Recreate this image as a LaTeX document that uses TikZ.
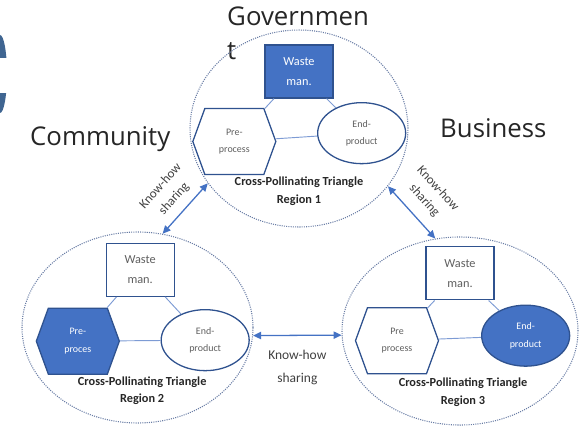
\documentclass[tikz,border=0pt]{standalone}
\usepackage{fontspec}
\setmainfont{Carlito}
\newfontfamily\actorfont{Open Sans}
\usetikzlibrary{positioning,shapes.geometric,shapes.symbols,arrows.meta}

\definecolor{shapeblue}{RGB}{68,114,196}
\definecolor{edgeblue}{RGB}{47,82,143}
\definecolor{linkblue}{RGB}{125,155,212}
\definecolor{ringgray}{RGB}{105,125,165}
\definecolor{textgray}{RGB}{95,95,95}
\definecolor{markblue}{RGB}{63,101,145}

\tikzset{
    region/.style={ellipse, draw=ringgray, densely dotted, line width=0.9pt, inner sep=0pt},
    wastebox/.style={rectangle, draw=edgeblue, line width=1.1pt, minimum width=2.04cm, minimum height=1.59cm, inner sep=1pt, align=center, font=\fontsize{10.5}{17}\selectfont, text=textgray},
    prebox/.style={signal, signal to=west and east, signal pointer angle=140, draw=edgeblue, line width=1.1pt, minimum width=2.49cm, minimum height=1.98cm, inner sep=1pt, align=center, font=\fontsize{8.5}{15}\selectfont, text=textgray},
    endbox/.style={ellipse, draw=edgeblue, line width=1.1pt, minimum width=2.64cm, minimum height=1.83cm, inner sep=0pt, align=center, font=\fontsize{8.5}{15}\selectfont, text=textgray},
    filled/.style={fill=shapeblue, text=white},
    regiontitle/.style={align=center, font=\bfseries\fontsize{10.5}{15}\selectfont, text=black!85},
    link/.style={draw=linkblue, line width=0.8pt},
    share/.style={draw=shapeblue, line width=1.1pt, {Triangle[length=2.4mm,width=2.2mm]}-{Triangle[length=2.4mm,width=2.2mm]}},
    sharelabel/.style={align=center, font=\fontsize{11.5}{19.5}\selectfont, text=black!75},
    slopedlabel/.style={sharelabel, font=\fontsize{11}{15.5}\selectfont, sloped},
    actor/.style={font=\actorfont\fontsize{22}{29}\selectfont, text=black!85, inner sep=0pt},
}

\begin{document}
\begin{tikzpicture}[x=0.03cm, y=-0.03cm, on grid]
    \useasboundingbox (0,0) rectangle (581,430);
    \fill[markblue] (0,74) ellipse [x radius=0.21cm, y radius=1.17cm];
    \fill[white] (0,58) rectangle (10,93);

    \node[actor, align=left, anchor=north west] (gov) at (227,7) {Governmen\\t};
    \node[actor, anchor=base west] (comm) at (30,146) {Community};
    \node[actor, anchor=base west] (bus) at (440,138) {Business};

    \node[region, minimum width=6.54cm, minimum height=5.91cm] (r1) at (299,128.5) {};
    \node[wastebox, filled, above=1.71cm of r1] (w1) {Waste\\man.};
    \node[prebox, below left=0.39cm and 1.94cm of r1] (p1) {Pre-\\process};
    \node[endbox, below right=0.14cm and 1.88cm of r1] (e1) {End-\\product};
    \node[regiontitle, below=1.89cm of r1] (t1) {Cross-Pollinating Triangle\\Region 1};

    \node[region, minimum width=6.93cm, minimum height=5.73cm] (r2) at (137.5,327.5) {};
    \node[wastebox, above right=1.73cm and 0.08cm of r2] (w2) {Waste\\man.};
    \node[prebox, filled, below left=0.41cm and 1.79cm of r2] (p2) {Pre-\\proces};
    \node[endbox, below right=0.38cm and 2.03cm of r2] (e2) {End-\\product};
    \node[regiontitle, below right=1.9cm and 0.14cm of r2] (t2) {Cross-Pollinating Triangle\\Region 2};

    \node[region, minimum width=7.08cm, minimum height=5.64cm] (r3) at (460,331) {};
    \node[wastebox, above=1.73cm of r3] (w3) {Waste\\man.};
    \node[prebox, below left=0.29cm and 1.89cm of r3] (p3) {Pre\\process};
    \node[endbox, filled, below right=0.14cm and 1.97cm of r3] (e3) {End-\\product};
    \node[regiontitle, below right=1.83cm and 0.09cm of r3] (t3) {Cross-Pollinating Triangle\\Region 3};

    \draw[link] (w1) -- (p1);
    \draw[link] (w1) -- (e1);
    \draw[link] (p1) -- (e1);
    \draw[link] (w2) -- (p2);
    \draw[link] (w2) -- (e2);
    \draw[link] (p2) -- (e2);
    \draw[link] (w3) -- (p3);
    \draw[link] (w3) -- (e3);
    \draw[link] (p3) -- (e3);

    \draw[share] (r1.211) -- node[slopedlabel, above=4pt] {Know-how\\sharing} (r2.75);
    \draw[share] (r1.-33) -- node[slopedlabel, above=6pt] {Know-how\\sharing} (r3.105);
    \draw[share] (r2.-4) -- node[sharelabel, below=0.3cm] {Know-how\\sharing} (r3.182);
\end{tikzpicture}
\end{document}
